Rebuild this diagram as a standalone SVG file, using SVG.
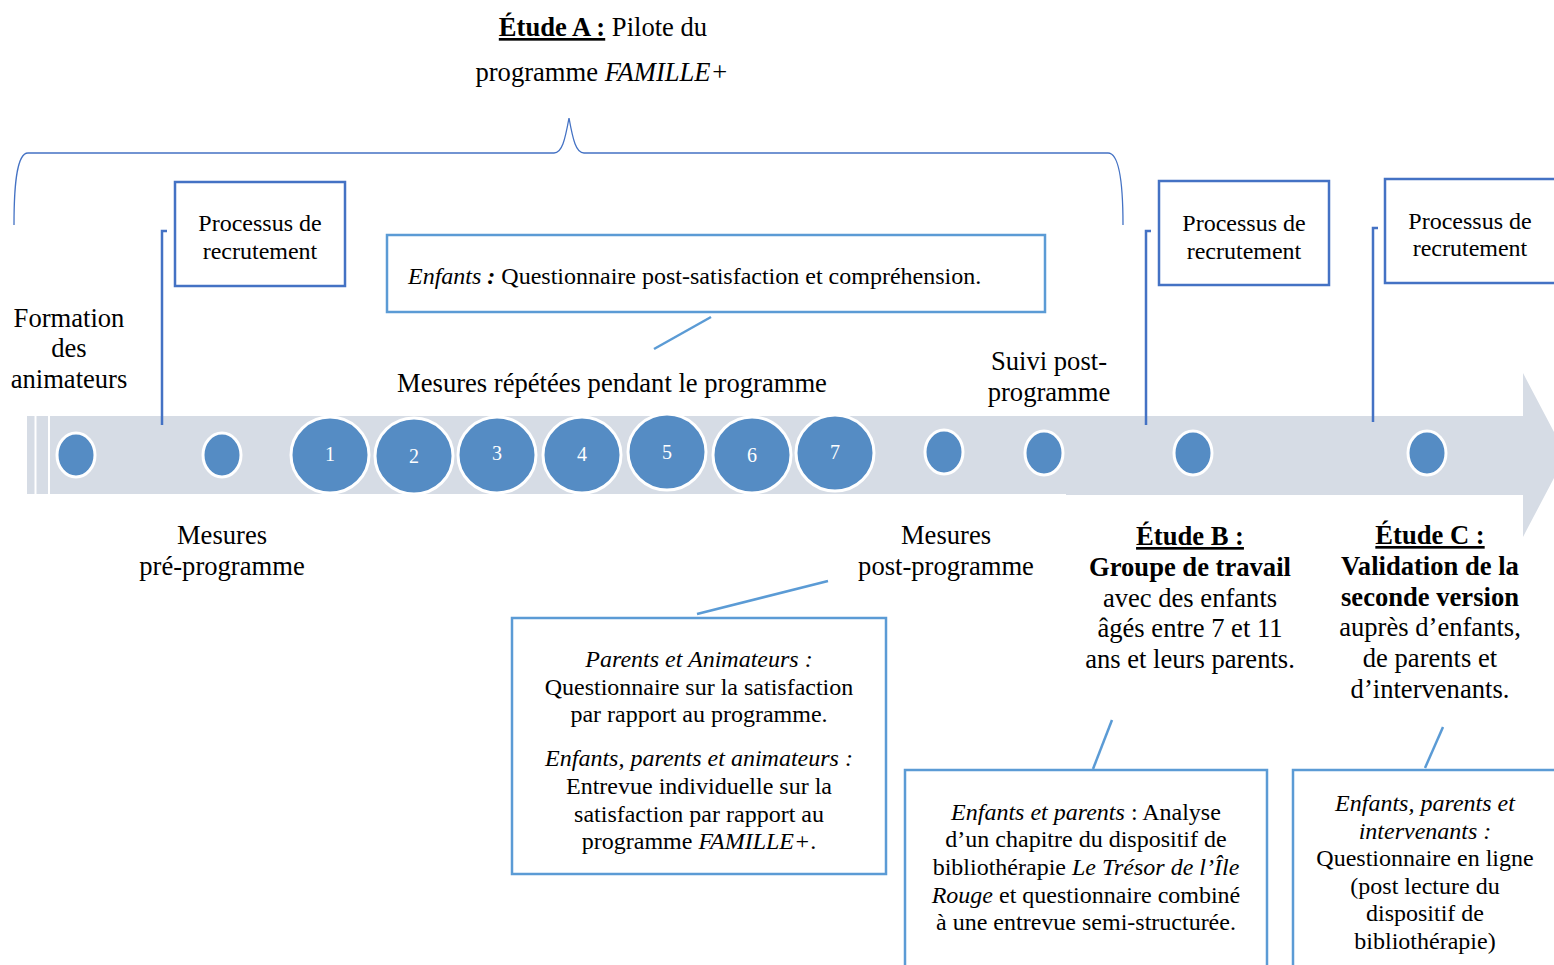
<svg xmlns="http://www.w3.org/2000/svg" width="1554" height="965" viewBox="0 0 1554 965">
<style>
text{font-family:"Liberation Serif","Times New Roman",serif;fill:#000;}
.t24{font-size:26.6px;}
.t22{font-size:24px;}
.c{text-anchor:middle;}
.i{font-style:italic;}
.b{font-weight:bold;}
.u{text-decoration:underline;}
.dot{fill:#558CC4;stroke:#fff;stroke-width:3;}
.num{font-size:20px;fill:#fff;text-anchor:middle;}
.rbox{fill:#fff;stroke:#4472C4;stroke-width:2.5;}
.nbox{fill:#fff;stroke:#5B9BD5;stroke-width:2.5;}
.conn{fill:none;stroke:#5B9BD5;stroke-width:2.5;}
.tick{fill:none;stroke:#4472C4;stroke-width:2.5;}
</style>
<rect width="1554" height="965" fill="#fff"/>

<g id="timeline">
  <polygon points="27,416 1523,416 1523,373 1566,455 1523,537 1523,495 1066,495 1066,494 27,494" fill="#D6DCE5"/>
  <line x1="35.5" y1="416" x2="35.5" y2="494" stroke="#fff" stroke-width="2"/>
  <line x1="49" y1="416" x2="49" y2="494" stroke="#fff" stroke-width="2"/>
</g>

<g id="brace">
  <path d="M14,225 C14,190 16,153 28,153 L554,153 C562,153 565,140 569,118 C573,140 576,153 584,153 L1108,153 C1120,153 1123,190 1123,225" fill="none" stroke="#4472C4" stroke-width="1.3"/>
</g>

<g id="title-a">
  <text class="t24 c" x="603" y="36"><tspan class="b u">Étude A :</tspan> Pilote du</text>
  <text class="t24 c" x="602" y="81">programme <tspan class="i">FAMILLE+</tspan></text>
</g>

<g id="connectors">
  <path class="tick" d="M167,231 L162,231 L162,425"/>
  <path class="tick" d="M1151,231 L1146,231 L1146,425"/>
  <path class="tick" d="M1378,228 L1373,228 L1373,422"/>
  <line class="conn" x1="711" y1="317" x2="654" y2="349"/>
  <line class="conn" x1="697" y1="614" x2="828" y2="581"/>
  <line class="conn" x1="1093" y1="769" x2="1112" y2="720"/>
  <line class="conn" x1="1425" y1="768" x2="1443" y2="727"/>
</g>

<g id="dots">
  <ellipse class="dot" cx="76" cy="455" rx="19" ry="22"/>
  <ellipse class="dot" cx="222" cy="455" rx="19" ry="22"/>
  <ellipse class="dot" cx="944" cy="452" rx="19" ry="22"/>
  <ellipse class="dot" cx="1044" cy="453" rx="19" ry="22"/>
  <ellipse class="dot" cx="1193" cy="453" rx="19" ry="22"/>
  <ellipse class="dot" cx="1427" cy="453" rx="19" ry="22"/>
</g>

<g id="sessions">
  <ellipse class="dot" cx="330" cy="455" rx="39" ry="38"/><text class="num" x="330" y="461">1</text>
  <ellipse class="dot" cx="414" cy="456" rx="39" ry="38"/><text class="num" x="414" y="463">2</text>
  <ellipse class="dot" cx="497" cy="455" rx="39" ry="38"/><text class="num" x="497" y="460">3</text>
  <ellipse class="dot" cx="582" cy="455" rx="39" ry="38"/><text class="num" x="582" y="461">4</text>
  <ellipse class="dot" cx="667" cy="452" rx="39" ry="38"/><text class="num" x="667" y="459">5</text>
  <ellipse class="dot" cx="752" cy="455" rx="39" ry="38"/><text class="num" x="752" y="462">6</text>
  <ellipse class="dot" cx="835" cy="453" rx="39" ry="38"/><text class="num" x="835" y="459">7</text>
</g>

<g id="recrutement-1">
  <rect class="rbox" x="175" y="182" width="170" height="104"/>
  <text class="t22 c" x="260" y="231">Processus de</text>
  <text class="t22 c" x="260" y="259">recrutement</text>
</g>
<g id="recrutement-2">
  <rect class="rbox" x="1159" y="181" width="170" height="104"/>
  <text class="t22 c" x="1244" y="231">Processus de</text>
  <text class="t22 c" x="1244" y="259">recrutement</text>
</g>
<g id="recrutement-3">
  <rect class="rbox" x="1385" y="179" width="180" height="104"/>
  <text class="t22 c" x="1470" y="229">Processus de</text>
  <text class="t22 c" x="1470" y="256">recrutement</text>
</g>

<g id="formation">
  <text class="t24 c" x="69" y="327">Formation</text>
  <text class="t24 c" x="69" y="357">des</text>
  <text class="t24 c" x="69" y="388">animateurs</text>
</g>

<g id="enfants-box">
  <rect class="nbox" x="387" y="235" width="658" height="77"/>
  <text class="t22" x="408" y="284"><tspan class="i">Enfants</tspan><tspan class="i b"> :</tspan> Questionnaire post-satisfaction et compréhension.</text>
</g>

<g id="mesures-pendant">
  <text class="t24 c" x="612" y="392">Mesures répétées pendant le programme</text>
</g>

<g id="suivi">
  <text class="t24 c" x="1049" y="370">Suivi post-</text>
  <text class="t24 c" x="1049" y="401">programme</text>
</g>

<g id="mesures-pre">
  <text class="t24 c" x="222" y="544">Mesures</text>
  <text class="t24 c" x="222" y="575">pré-programme</text>
</g>

<g id="mesures-post">
  <text class="t24 c" x="946" y="544">Mesures</text>
  <text class="t24 c" x="946" y="575">post-programme</text>
</g>

<g id="parents-box">
  <rect class="nbox" x="512" y="618" width="374" height="256"/>
  <text class="t22 c i" x="699" y="667">Parents et Animateurs :</text>
  <text class="t22 c" x="699" y="695">Questionnaire sur la satisfaction</text>
  <text class="t22 c" x="699" y="722">par rapport au programme.</text>
  <text class="t22 c i" x="699" y="766">Enfants, parents et animateurs :</text>
  <text class="t22 c" x="699" y="794">Entrevue individuelle sur la</text>
  <text class="t22 c" x="699" y="822">satisfaction par rapport au</text>
  <text class="t22 c" x="699" y="849">programme <tspan class="i">FAMILLE+</tspan>.</text>
</g>

<g id="etude-b">
  <text class="t24 c b u" x="1190" y="545">Étude B :</text>
  <text class="t24 c b" x="1190" y="576">Groupe de travail</text>
  <text class="t24 c" x="1190" y="607">avec des enfants</text>
  <text class="t24 c" x="1190" y="637">âgés entre 7 et 11</text>
  <text class="t24 c" x="1190" y="668">ans et leurs parents.</text>
</g>

<g id="etude-c">
  <text class="t24 c b u" x="1430" y="544">Étude C :</text>
  <text class="t24 c b" x="1430" y="575">Validation de la</text>
  <text class="t24 c b" x="1430" y="606">seconde version</text>
  <text class="t24 c" x="1430" y="636">auprès d’enfants,</text>
  <text class="t24 c" x="1430" y="667">de parents et</text>
  <text class="t24 c" x="1430" y="698">d’intervenants.</text>
</g>

<g id="etude-b-box">
  <rect class="nbox" x="905" y="770" width="362" height="210"/>
  <text class="t22 c" x="1086" y="820"><tspan class="i">Enfants et parents</tspan> : Analyse</text>
  <text class="t22 c" x="1086" y="847">d’un chapitre du dispositif de</text>
  <text class="t22 c" x="1086" y="875">bibliothérapie <tspan class="i">Le Trésor de l’Île</tspan></text>
  <text class="t22 c" x="1086" y="903"><tspan class="i">Rouge</tspan> et questionnaire combiné</text>
  <text class="t22 c" x="1086" y="930">à une entrevue semi-structurée.</text>
</g>

<g id="etude-c-box">
  <rect class="nbox" x="1293" y="770" width="280" height="210"/>
  <text class="t22 c i" x="1425" y="811">Enfants, parents et</text>
  <text class="t22 c i" x="1425" y="839">intervenants :</text>
  <text class="t22 c" x="1425" y="866">Questionnaire en ligne</text>
  <text class="t22 c" x="1425" y="894">(post lecture du</text>
  <text class="t22 c" x="1425" y="921">dispositif de</text>
  <text class="t22 c" x="1425" y="949">bibliothérapie)</text>
</g>
</svg>
